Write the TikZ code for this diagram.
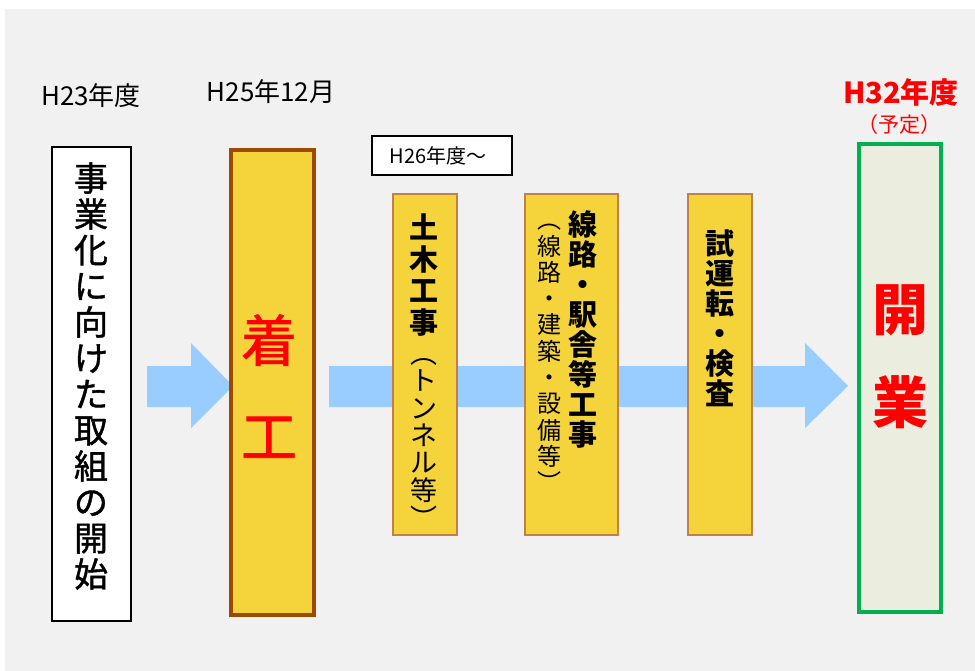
\documentclass[tikz,border=0pt]{standalone}
\usepackage{fontspec}
\newfontfamily\jp{Noto Sans CJK JP}
\newfontfamily\jpm{Noto Sans CJK JP}[FakeBold=1.2]
\definecolor{bg}{HTML}{F1F1F1}
\definecolor{ablue}{HTML}{99CCFF}
\definecolor{yel}{HTML}{F5D33A}
\definecolor{dbrown}{HTML}{9C4A00}
\definecolor{lbrown}{HTML}{C0804A}
\definecolor{grn}{HTML}{00B050}
\definecolor{pale}{HTML}{EBEEDF}
\definecolor{rd}{HTML}{FF0000}
\tikzset{
  box/.style={inner sep=0pt, outer sep=0pt},
  txt/.style={inner sep=0pt, align=center},
  vt/.style n args={2}{txt, font=\jp\fontsize{#1}{#2}\selectfont},
  vtm/.style n args={2}{txt, font=\jpm\fontsize{#1}{#2}\selectfont},
  vtb/.style n args={2}{txt, font=\jp\bfseries\fontsize{#1}{#2}\selectfont},
}
\begin{document}
\begin{tikzpicture}[x=1pt,y=-1pt]
\useasboundingbox (0,0) rectangle (975,671);
\fill[white] (0,0) rectangle (975,671);
\fill[bg] (5,9) rectangle (975,671);
% arrows
\fill[ablue] (147,366) -- (191,366) -- (191,343) -- (233,386) -- (191,428) -- (191,407) -- (147,407) -- cycle;
\fill[ablue] (329,366) -- (805,366) -- (805,343) -- (848,386) -- (805,428) -- (805,407) -- (329,407) -- cycle;
% boxes
\draw[box, fill=white, draw=black, line width=2pt] (52,147) rectangle (131,621);
\node[box] (b1) at (91.5,384) {};
\draw[box, fill=yel, draw=dbrown, line width=4pt] (231,150) rectangle (314,615);
\node[box] (b2) at (272.5,382) {};
\draw[box, fill=white, draw=black, line width=2pt] (372,136) rectangle (512,175);
\node[txt, font=\jp\fontsize{20}{22}\selectfont] (h26) at (438,156) {H26年度〜};
\draw[box, fill=yel, draw=lbrown, line width=1.2pt] (393,194) rectangle (457,535);
\draw[box, fill=yel, draw=lbrown, line width=1.2pt] (525,194) rectangle (618,535);
\draw[box, fill=yel, draw=lbrown, line width=1.2pt] (688,194) rectangle (752,535);
\draw[box, fill=pale, draw=grn, line width=4.5pt] (859,144) rectangle (941,612);
% top labels
\node[txt, font=\jp\fontsize{26}{28}\selectfont] (l1) at (91,96) {H23年度};
\node[txt, font=\jp\fontsize{26}{28}\selectfont] (l2) at (271,92) {H25年12月};
\node[txt, text=rd, font=\jp\bfseries\fontsize{29}{31}\selectfont] (l3) at (901,92) {H32年度};
\node[txt, text=rd, font=\jp\fontsize{21}{23}\selectfont] (l4) at (899,125) {（予定）};
% box texts
\node[vtm={34}{36}] (t1) at (91,376) {事\\業\\化\\に\\向\\け\\た\\取\\組\\の\\開\\始};
\node[vtm={56}{96}, text=rd] (t2) at (269,386) {着\\工};
\node[vtb={29}{31.5}] (t3a) at (424,275) {土\\木\\工\\事};
\node[vt={27}{27.5}] (t3b) at (424,443) {︵\\ト\\ン\\ネ\\ル\\等\\︶};
\node[vtb={29}{30}] (t4a) at (583,329) {線\\路\\・\\駅\\舎\\等\\工\\事};
\node[vt={24}{26.3}] (t4b) at (549,358) {︵\\線\\路\\・\\建\\築\\・\\設\\備\\等\\︶};
\node[vtb={29}{30}] (t5) at (720,318) {試\\運\\転\\・\\検\\査};
\node[vtb={56}{93}, text=rd] (t6) at (900,357) {開\\業};
\end{tikzpicture}
\end{document}
